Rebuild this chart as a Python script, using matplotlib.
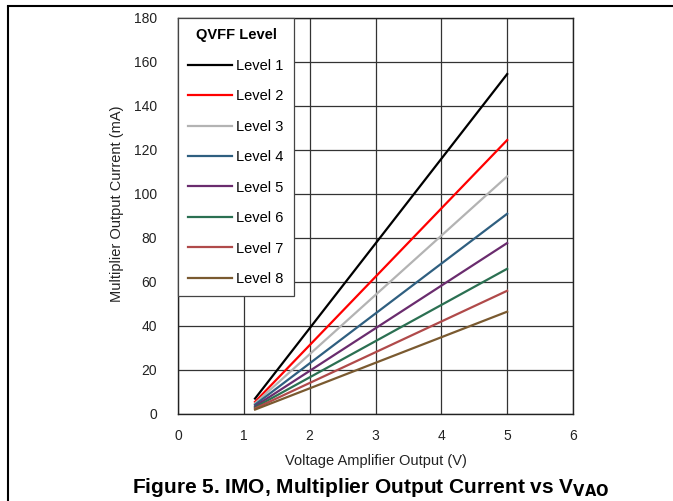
import matplotlib
matplotlib.use("Agg")
import matplotlib.pyplot as plt
from matplotlib.lines import Line2D

plt.rcParams['font.family'] = ['Liberation Sans', 'DejaVu Sans']

levels = ["Level 1", "Level 2", "Level 3", "Level 4", "Level 5", "Level 6", "Level 7", "Level 8"]
x_start = [1.17, 1.17, 1.17, 1.17, 1.17, 1.17, 1.17, 1.17]
x_end = [5.0, 5.0, 5.0, 5.0, 5.0, 5.0, 5.0, 5.0]
y_start = [7.0, 5.5, 4.8, 4.2, 3.5, 3.0, 2.5, 2.0]
y_end = [154.5, 124.5, 108.0, 91.0, 77.7, 66.0, 56.0, 46.5]
colors = ["#000000", "#FF0000", "#B3B3B3", "#2F5F80", "#6A2C6E", "#2B7052", "#B04A4A", "#7A5A30"]
xticks = [0, 1, 2, 3, 4, 5, 6]
yticks = [0, 20, 40, 60, 80, 100, 120, 140, 160, 180]

fig = plt.figure(figsize=(6.73, 5.01), dpi=100)
ax = fig.add_axes([0.2645, 0.1737, 0.5869, 0.7904])

for lab, xs, xe, ys, ye, c in zip(levels, x_start, x_end, y_start, y_end, colors):
    ax.plot([xs, xe], [ys, ye], color=c, lw=1.6, label=lab, zorder=3)

ax.set_xlim(0, 6)
ax.set_ylim(0, 180)
ax.set_xticks(xticks)
ax.set_yticks(yticks)
ax.grid(True, color="#333333", lw=0.9)
ax.tick_params(length=0, labelsize=10, colors="#222222")
ax.tick_params(axis='x', pad=11)
ax.tick_params(axis='y', pad=15)
for s in ax.spines.values():
    s.set_color("#222222")
    s.set_linewidth(1.0)

ax.set_xlabel("Voltage Amplifier Output (V)", fontsize=10.5, color="#222222")
ax.xaxis.set_label_coords(0.5, -0.1)
ax.set_ylabel("Multiplier Output Current (mA)", fontsize=10.5, color="#222222")
ax.yaxis.set_label_coords(-0.137, 0.53)

leg = ax.legend(loc="upper left", bbox_to_anchor=(0, 1), borderaxespad=0,
                title="QVFF Level", title_fontproperties={'weight': 'bold', 'size': 10.5},
                fontsize=10.5, labelspacing=1.13, handlelength=3.0, handletextpad=0.3,
                fancybox=False, framealpha=1, edgecolor="#444444", borderpad=0.7)
leg.get_frame().set_linewidth(0.9)
leg.set_zorder(5)

fig.text(0.55, 0.016, "Figure 5. IMO, Multiplier Output Current vs V$_{\\mathbf{VAO}}$",
         ha="center", va="baseline", fontsize=15, fontweight="bold")

# page frame lines
fig.add_artist(Line2D([8/673, 8/673], [0, 1 - 7/501], color="black", lw=1.5))
fig.add_artist(Line2D([8/673, 1], [1 - 6/501, 1 - 6/501], color="black", lw=1.5))

fig.savefig("out.png", dpi=100)
